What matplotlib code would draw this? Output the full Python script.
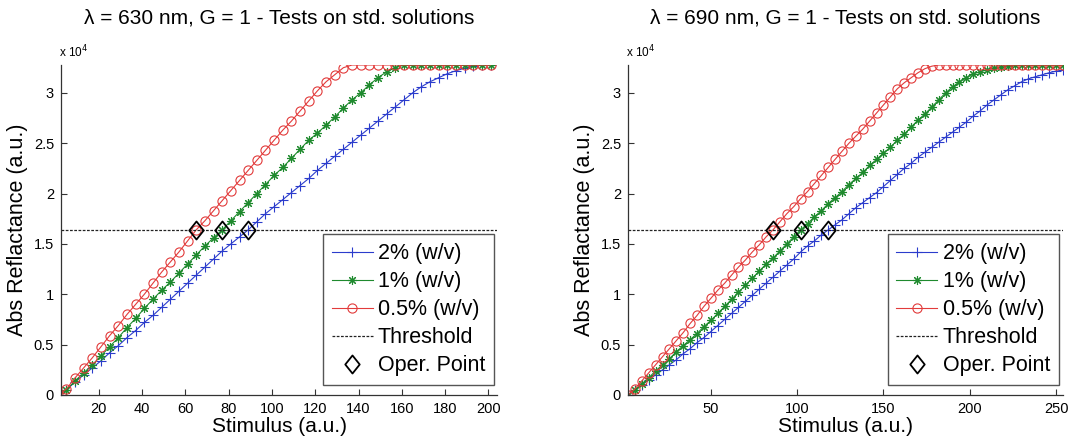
import numpy as np
import matplotlib
matplotlib.use("Agg")
import matplotlib.pyplot as plt
from matplotlib.path import Path

plt.rcParams['font.family'] = ['Liberation Sans', 'DejaVu Sans']

SAT = 3.2767          # saturation level (x 1e4 counts)
THRESHOLD = 1.6384    # threshold level (x 1e4 counts)

# ---- lambda = 630 nm: stimulus 1:4:201 ----
stim_630 = list(range(1, 202, 4))
r2_630 = [0.00, 0.05, 0.13, 0.20, 0.27, 0.34, 0.42, 0.49, 0.57, 0.64,
          0.72, 0.79, 0.87, 0.95, 1.03, 1.11, 1.19, 1.27, 1.35, 1.43,
          1.50, 1.57, 1.64, 1.72, 1.80, 1.87, 1.94, 2.01, 2.08, 2.15,
          2.23, 2.30, 2.37, 2.44, 2.51, 2.58, 2.65, 2.72, 2.79, 2.86,
          2.93, 3.00, 3.06, 3.11, 3.15, 3.19, 3.22, 3.245, 3.265, SAT,
          SAT]
r1_630 = [0.00, 0.05, 0.14, 0.22, 0.30, 0.39, 0.48, 0.57, 0.67, 0.76,
          0.86, 0.95, 1.04, 1.12, 1.21, 1.30, 1.39, 1.48, 1.56, 1.64,
          1.73, 1.82, 1.91, 2.00, 2.09, 2.18, 2.26, 2.35, 2.44, 2.53,
          2.60, 2.68, 2.76, 2.85, 2.93, 3.00, 3.08, 3.15, 3.21, 3.25,
          SAT, SAT, SAT, SAT, SAT, SAT, SAT, SAT, SAT, SAT,
          SAT]
r05_630 = [0.00, 0.06, 0.17, 0.27, 0.37, 0.48, 0.59, 0.69, 0.80, 0.90,
           1.00, 1.11, 1.22, 1.32, 1.42, 1.53, 1.64, 1.73, 1.83, 1.93,
           2.03, 2.13, 2.23, 2.33, 2.43, 2.53, 2.63, 2.72, 2.82, 2.92,
           3.02, 3.11, 3.18, 3.25, SAT, SAT, SAT, SAT, SAT, SAT,
           SAT, SAT, SAT, SAT, SAT, SAT, SAT, SAT, SAT, SAT,
           SAT]
oper_630 = [65, 77, 89]

# ---- lambda = 690 nm: stimulus 2:4:254 ----
stim_690 = list(range(2, 255, 4))
r2_690 = [0.00, 0.05, 0.10, 0.15, 0.20, 0.25, 0.30, 0.35, 0.41, 0.46,
          0.52, 0.57, 0.63, 0.69, 0.75, 0.81, 0.87, 0.93, 0.99, 1.05,
          1.11, 1.17, 1.23, 1.29, 1.35, 1.42, 1.48, 1.53, 1.59, 1.64,
          1.69, 1.74, 1.80, 1.86, 1.91, 1.96, 2.01, 2.07, 2.13, 2.19,
          2.25, 2.30, 2.36, 2.41, 2.46, 2.51, 2.56, 2.61, 2.66, 2.71,
          2.77, 2.82, 2.88, 2.93, 2.98, 3.03, 3.07, 3.11, 3.14, 3.16,
          3.18, 3.20, 3.215, 3.225]
r1_690 = [0.00, 0.05, 0.11, 0.17, 0.24, 0.30, 0.36, 0.43, 0.49, 0.55,
          0.61, 0.68, 0.74, 0.81, 0.88, 0.95, 1.02, 1.09, 1.16, 1.23,
          1.30, 1.36, 1.43, 1.50, 1.57, 1.64, 1.70, 1.77, 1.83, 1.90,
          1.96, 2.02, 2.09, 2.15, 2.21, 2.28, 2.34, 2.40, 2.46, 2.53,
          2.59, 2.66, 2.73, 2.79, 2.86, 2.93, 3.00, 3.06, 3.11, 3.15,
          3.19, 3.21, 3.23, 3.245, 3.26, 3.27, SAT, SAT, SAT, SAT,
          SAT, SAT, SAT, SAT]
r05_690 = [0.00, 0.06, 0.14, 0.22, 0.30, 0.38, 0.46, 0.54, 0.62, 0.71,
           0.79, 0.88, 0.96, 1.04, 1.11, 1.19, 1.27, 1.34, 1.42, 1.49,
           1.57, 1.64, 1.72, 1.80, 1.87, 1.95, 2.02, 2.10, 2.18, 2.26,
           2.34, 2.42, 2.50, 2.57, 2.64, 2.72, 2.80, 2.88, 2.96, 3.04,
           3.10, 3.15, 3.20, 3.24, 3.265, SAT, SAT, SAT, SAT, SAT,
           SAT, SAT, SAT, SAT, SAT, SAT, SAT, SAT, SAT, SAT,
           SAT, SAT, SAT, SAT]
oper_690 = [86, 102, 118]

series_labels = ['2% (w/v)', '1% (w/v)', '0.5% (w/v)']
titles = ['\u03bb = 630 nm, G = 1 - Tests on std. solutions',
          '\u03bb = 690 nm, G = 1 - Tests on std. solutions']
ytick_vals = [0, 0.5, 1, 1.5, 2, 2.5, 3]
ytick_labels = ['0', '0.5', '1', '1.5', '2', '2.5', '3']

BLUE, GREEN, RED = '#2b3ccc', '#1f8a2e', '#e23b3b'
AXC = '#333333'
asterisk = (8, 2, 0)
diamond = Path([(0, 1), (0.8, 0), (0, -1), (-0.8, 0), (0, 1)],
               [Path.MOVETO, Path.LINETO, Path.LINETO, Path.LINETO, Path.CLOSEPOLY])

W, H = 1071, 441
fig = plt.figure(figsize=(W / 100, H / 100), dpi=100)


def px_axes(x0, x1, y0, y1):
    return fig.add_axes([x0 / W, 1 - y1 / H, (x1 - x0) / W, (y1 - y0) / H])


def draw(ax, stim, r2, r1, r05, oper, xlim, xticks, title, leg_anchor):
    s = np.asarray(stim, float)
    for vals in (r2, r1, r05):
        assert len(vals) == len(stim)
    l1, = ax.plot(s, np.asarray(r2) * 1e4, color=BLUE, lw=0.8, marker='+',
                  ms=6.5, mew=0.8, label=series_labels[0])
    l2, = ax.plot(s, np.asarray(r1) * 1e4, color=GREEN, lw=0.8, marker=asterisk,
                  ms=6.5, mew=0.8, label=series_labels[1])
    l3, = ax.plot(s, np.asarray(r05) * 1e4, color=RED, lw=0.8, marker='o',
                  ms=6.6, mew=0.8, mfc='none', label=series_labels[2])
    l4 = ax.axhline(THRESHOLD * 1e4, color='#222222', lw=0.9,
                    ls=(0, (2.2, 1.2)), label='Threshold')
    l5, = ax.plot(oper, [THRESHOLD * 1e4] * len(oper), ls='none', marker=diamond,
                  ms=13, mfc='none', mec='black', mew=1.3, label='Oper. Point')

    ax.set_xlim(*xlim)
    ax.set_ylim(0, SAT * 1e4)
    ax.set_xticks(xticks)
    ax.set_yticks([v * 1e4 for v in ytick_vals])
    ax.set_yticklabels(ytick_labels)
    for side in ('top', 'right'):
        ax.spines[side].set_visible(False)
    for side in ('left', 'bottom'):
        ax.spines[side].set_color(AXC)
        ax.spines[side].set_linewidth(0.9)
    ax.tick_params(direction='in', length=4, width=0.8, color=AXC,
                   labelsize=10.5, pad=5)
    ax.set_title(title, fontsize=15, pad=30)
    ax.set_xlabel('Stimulus (a.u.)', fontsize=15, labelpad=1)
    ax.set_ylabel('Abs Reflactance (a.u.)', fontsize=15.5, labelpad=4)
    ax.text(-0.005, 1.015, r'x 10$^{4}$', transform=ax.transAxes,
            fontsize=8.5, ha='left', va='bottom')

    leg = ax.legend(handles=[l1, l2, l3, l4, l5], loc='lower right',
                    bbox_to_anchor=leg_anchor, fontsize=15.5, frameon=True,
                    fancybox=False, edgecolor='#555555', framealpha=1,
                    handlelength=1.9, handletextpad=0.25, labelspacing=0.33,
                    borderpad=0.4, borderaxespad=0)
    leg.get_frame().set_linewidth(1.0)


axL = px_axes(61, 497, 65, 395)
draw(axL, stim_630, r2_630, r1_630, r05_630, oper_630, (2.5, 204),
     list(range(20, 201, 20)), titles[0], (0.993, 0.03))

axR = px_axes(628, 1063, 65, 395)
draw(axR, stim_690, r2_690, r1_690, r05_690, oper_690, (2, 254),
     [50, 100, 150, 200, 250], titles[1], (0.99, 0.03))

fig.savefig('out.png', dpi=100)
